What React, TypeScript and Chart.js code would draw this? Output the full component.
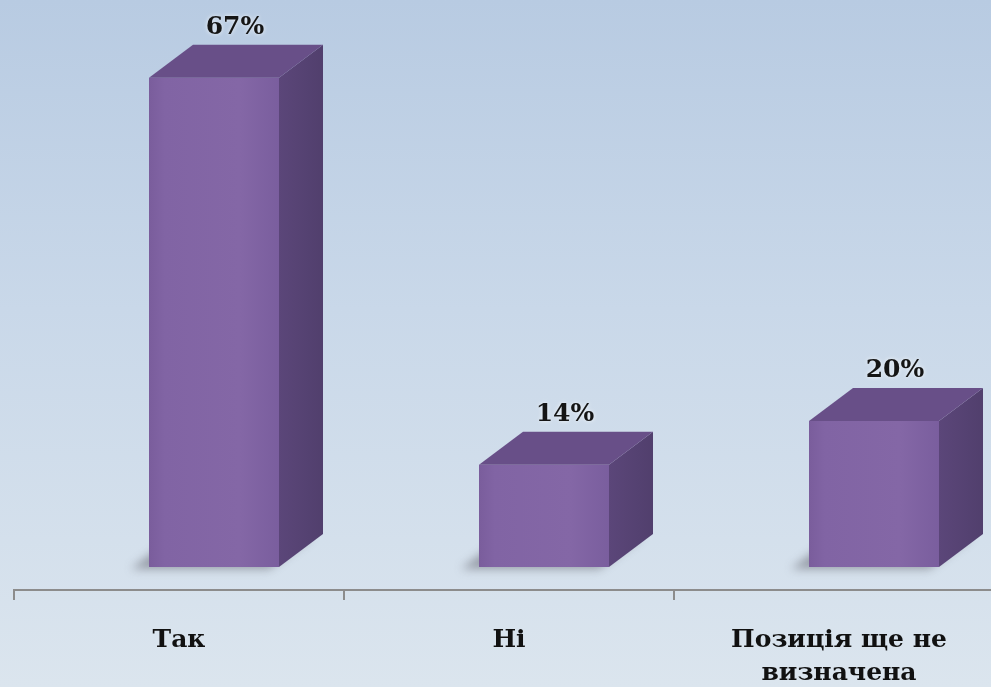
import React, { useEffect, useRef } from "react";
import { Chart, registerables } from "chart.js";

Chart.register(...registerables);

const categories: string[][] = [["Так"], ["Ні"], ["Позиція ще не", "визначена"]];
const values: number[] = [67, 14, 20];
const valueLabels: string[] = ["67%", "14%", "20%"];

const FONT = "'DejaVu Serif', 'Liberation Serif', serif";
const DEPTH_X = 44;
const DEPTH_Y = 33;
const SHIFT = 35;

const bar3d = {
  id: "bar3d",
  afterDatasetsDraw(chart: any) {
    const ctx: CanvasRenderingContext2D = chart.ctx;
    const meta = chart.getDatasetMeta(0);
    meta.data.forEach((el: any, i: number) => {
      const { x, y, base, width } = el.getProps(["x", "y", "base", "width"], true);
      const l = x - width / 2 + SHIFT;
      const r = x + width / 2 + SHIFT;
      ctx.save();
      // floor shadow
      ctx.filter = "blur(5px)";
      ctx.fillStyle = "rgba(70,70,80,0.45)";
      ctx.beginPath();
      ctx.moveTo(l - 18, base + 2);
      ctx.lineTo(r - 10, base + 2);
      ctx.lineTo(r + DEPTH_X - 10, base - DEPTH_Y + 2);
      ctx.lineTo(l + DEPTH_X - 18, base - DEPTH_Y + 2);
      ctx.closePath();
      ctx.fill();
      ctx.filter = "none";
      // front
      const g = ctx.createLinearGradient(l, 0, r, 0);
      g.addColorStop(0, "#7a5d9c");
      g.addColorStop(0.12, "#8164a4");
      g.addColorStop(0.7, "#8467a6");
      g.addColorStop(1, "#7a5e9e");
      ctx.fillStyle = g;
      ctx.fillRect(l, y, r - l, base - y);
      // side
      const gs = ctx.createLinearGradient(r, 0, r + DEPTH_X, 0);
      gs.addColorStop(0, "#5b4679");
      gs.addColorStop(1, "#513f6d");
      ctx.fillStyle = gs;
      ctx.beginPath();
      ctx.moveTo(r, y);
      ctx.lineTo(r + DEPTH_X, y - DEPTH_Y);
      ctx.lineTo(r + DEPTH_X, base - DEPTH_Y);
      ctx.lineTo(r, base);
      ctx.closePath();
      ctx.fill();
      // top
      ctx.fillStyle = "#684f88";
      ctx.beginPath();
      ctx.moveTo(l, y);
      ctx.lineTo(l + DEPTH_X, y - DEPTH_Y);
      ctx.lineTo(r + DEPTH_X, y - DEPTH_Y);
      ctx.lineTo(r, y);
      ctx.closePath();
      ctx.fill();
      // label
      ctx.font = `bold 25px ${FONT}`;
      ctx.textAlign = "center";
      ctx.textBaseline = "alphabetic";
      ctx.shadowColor = "rgba(255,255,255,0.8)";
      ctx.shadowBlur = 4;
      ctx.fillStyle = "#151515";
      ctx.fillText(valueLabels[i], (l + r + DEPTH_X) / 2 - 1, y - DEPTH_Y - 11);
      ctx.restore();
    });
  },
};

export default function App() {
  const ref = useRef<HTMLCanvasElement | null>(null);
  useEffect(() => {
    if (!ref.current) return;
    const chart = new Chart(ref.current, {
      type: "bar",
      data: {
        labels: categories,
        datasets: [
          {
            data: values,
            backgroundColor: "rgba(0,0,0,0)",
            categoryPercentage: 0.8,
            barPercentage: 130 / 264,
          },
        ],
      },
      options: {
        animation: false,
        responsive: false,
        maintainAspectRatio: false,
        devicePixelRatio: 1,
        layout: { padding: { left: 14, right: 16, top: 0, bottom: 0 } },
        plugins: { legend: { display: false }, tooltip: { enabled: false } },
        scales: {
          x: {
            offset: true,
            grid: {
              display: true,
              drawOnChartArea: false,
              drawTicks: true,
              tickLength: 10,
              color: "#8c8c8c",
              lineWidth: 2,
              offset: true,
            },
            border: { display: true, color: "#8c8c8c", width: 2 },
            ticks: {
              color: "#111",
              font: { family: FONT, size: 25, weight: "bold", lineHeight: 1.32 },
              padding: 24,
              maxRotation: 0,
              autoSkip: false,
            },
            afterFit: (s: any) => {
              s.height = 97;
            },
          },
          y: { display: false, min: -3.15, max: 77.65 },
        },
      },
      plugins: [bar3d],
    } as any);
    return () => chart.destroy();
  }, []);
  return (
    <div
      style={{
        position: "absolute",
        left: 0,
        top: 0,
        width: 991,
        height: 687,
        overflow: "hidden",
        background: "linear-gradient(180deg, #b8cbe2 0%, #c9d8e9 45%, #dbe5ee 100%)",
      }}
    >
      <canvas ref={ref} width={1020} height={687} style={{ display: "block" }} />
    </div>
  );
}
